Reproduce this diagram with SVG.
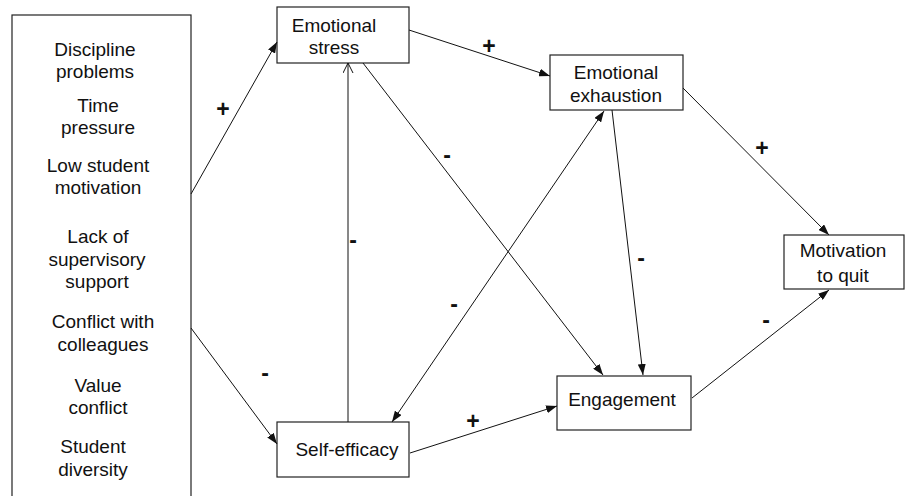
<svg xmlns="http://www.w3.org/2000/svg" width="906" height="496" viewBox="0 0 906 496">
<style>
.box{fill:#fff;stroke:#222;stroke-width:1.2}
.t{font-family:"Liberation Sans",Arial,sans-serif;font-size:19px;fill:#111;text-anchor:middle}
.s{font-family:"Liberation Sans",Arial,sans-serif;font-size:23px;font-weight:bold;fill:#111;text-anchor:middle}
.c{stroke:#111;stroke-width:1;fill:none}
</style>
<defs>
<marker id="a" markerUnits="userSpaceOnUse" markerWidth="12" markerHeight="8" refX="11" refY="4" orient="auto-start-reverse"><path d="M0,0 L11,4 L0,8 z" fill="#111"/></marker>
<marker id="o" markerUnits="userSpaceOnUse" markerWidth="12" markerHeight="12" refX="10" refY="5" orient="auto"><path d="M0,0 L10,5 L0,10" fill="none" stroke="#111" stroke-width="1"/></marker>
</defs>
<g id="stressors">
<rect class="box" x="12" y="15" width="179" height="490"/>
<text class="t" x="95" y="56">Discipline</text>
<text class="t" x="95" y="78">problems</text>
<text class="t" x="98" y="112">Time</text>
<text class="t" x="98" y="134">pressure</text>
<text class="t" x="98" y="172">Low student</text>
<text class="t" x="98" y="194">motivation</text>
<text class="t" x="98" y="243">Lack of</text>
<text class="t" x="97" y="266">supervisory</text>
<text class="t" x="97" y="288">support</text>
<text class="t" x="103" y="328">Conflict with</text>
<text class="t" x="103" y="351">colleagues</text>
<text class="t" x="98" y="392">Value</text>
<text class="t" x="98" y="414">conflict</text>
<text class="t" x="93" y="453">Student</text>
<text class="t" x="93" y="476">diversity</text>
</g>
<g id="emotional-stress">
<rect class="box" x="277" y="7" width="132" height="56"/>
<text class="t" x="334" y="32">Emotional</text>
<text class="t" x="334" y="54">stress</text>
</g>
<g id="emotional-exhaustion">
<rect class="box" x="550" y="55" width="133" height="55"/>
<text class="t" x="616" y="79">Emotional</text>
<text class="t" x="616" y="102">exhaustion</text>
</g>
<g id="self-efficacy">
<rect class="box" x="277" y="422" width="132" height="55"/>
<text class="t" x="347" y="456">Self-efficacy</text>
</g>
<g id="engagement">
<rect class="box" x="557" y="376" width="134" height="54"/>
<text class="t" x="622" y="406">Engagement</text>
</g>
<g id="motivation-to-quit">
<rect class="box" x="784" y="235" width="120" height="54"/>
<text class="t" x="843" y="257">Motivation</text>
<text class="t" x="843" y="282">to quit</text>
</g>
<g id="connectors">
<line class="c" x1="191" y1="194" x2="277" y2="42" marker-end="url(#a)"/>
<line class="c" x1="191" y1="328" x2="277" y2="444" marker-end="url(#a)"/>
<line class="c" x1="409" y1="30" x2="550" y2="76" marker-end="url(#a)"/>
<line class="c" x1="348" y1="422" x2="348" y2="63" marker-end="url(#o)"/>
<line class="c" x1="363" y1="63" x2="603" y2="375" marker-end="url(#a)"/>
<line class="c" x1="392" y1="422" x2="604" y2="111" marker-start="url(#a)" marker-end="url(#a)"/>
<line class="c" x1="612" y1="110" x2="643" y2="375" marker-end="url(#a)"/>
<line class="c" x1="683" y1="88" x2="829" y2="235" marker-end="url(#a)"/>
<line class="c" x1="410" y1="453" x2="557" y2="406" marker-end="url(#a)"/>
<line class="c" x1="692" y1="398" x2="829" y2="290" marker-end="url(#a)"/>
<text class="s" x="223" y="117">+</text>
<text class="s" x="265" y="381">-</text>
<text class="s" x="489" y="54">+</text>
<text class="s" x="447" y="163">-</text>
<text class="s" x="353" y="248">-</text>
<text class="s" x="454" y="312">-</text>
<text class="s" x="641" y="266">-</text>
<text class="s" x="762" y="156">+</text>
<text class="s" x="766" y="328">-</text>
<text class="s" x="473" y="429">+</text>
</g>
</svg>
